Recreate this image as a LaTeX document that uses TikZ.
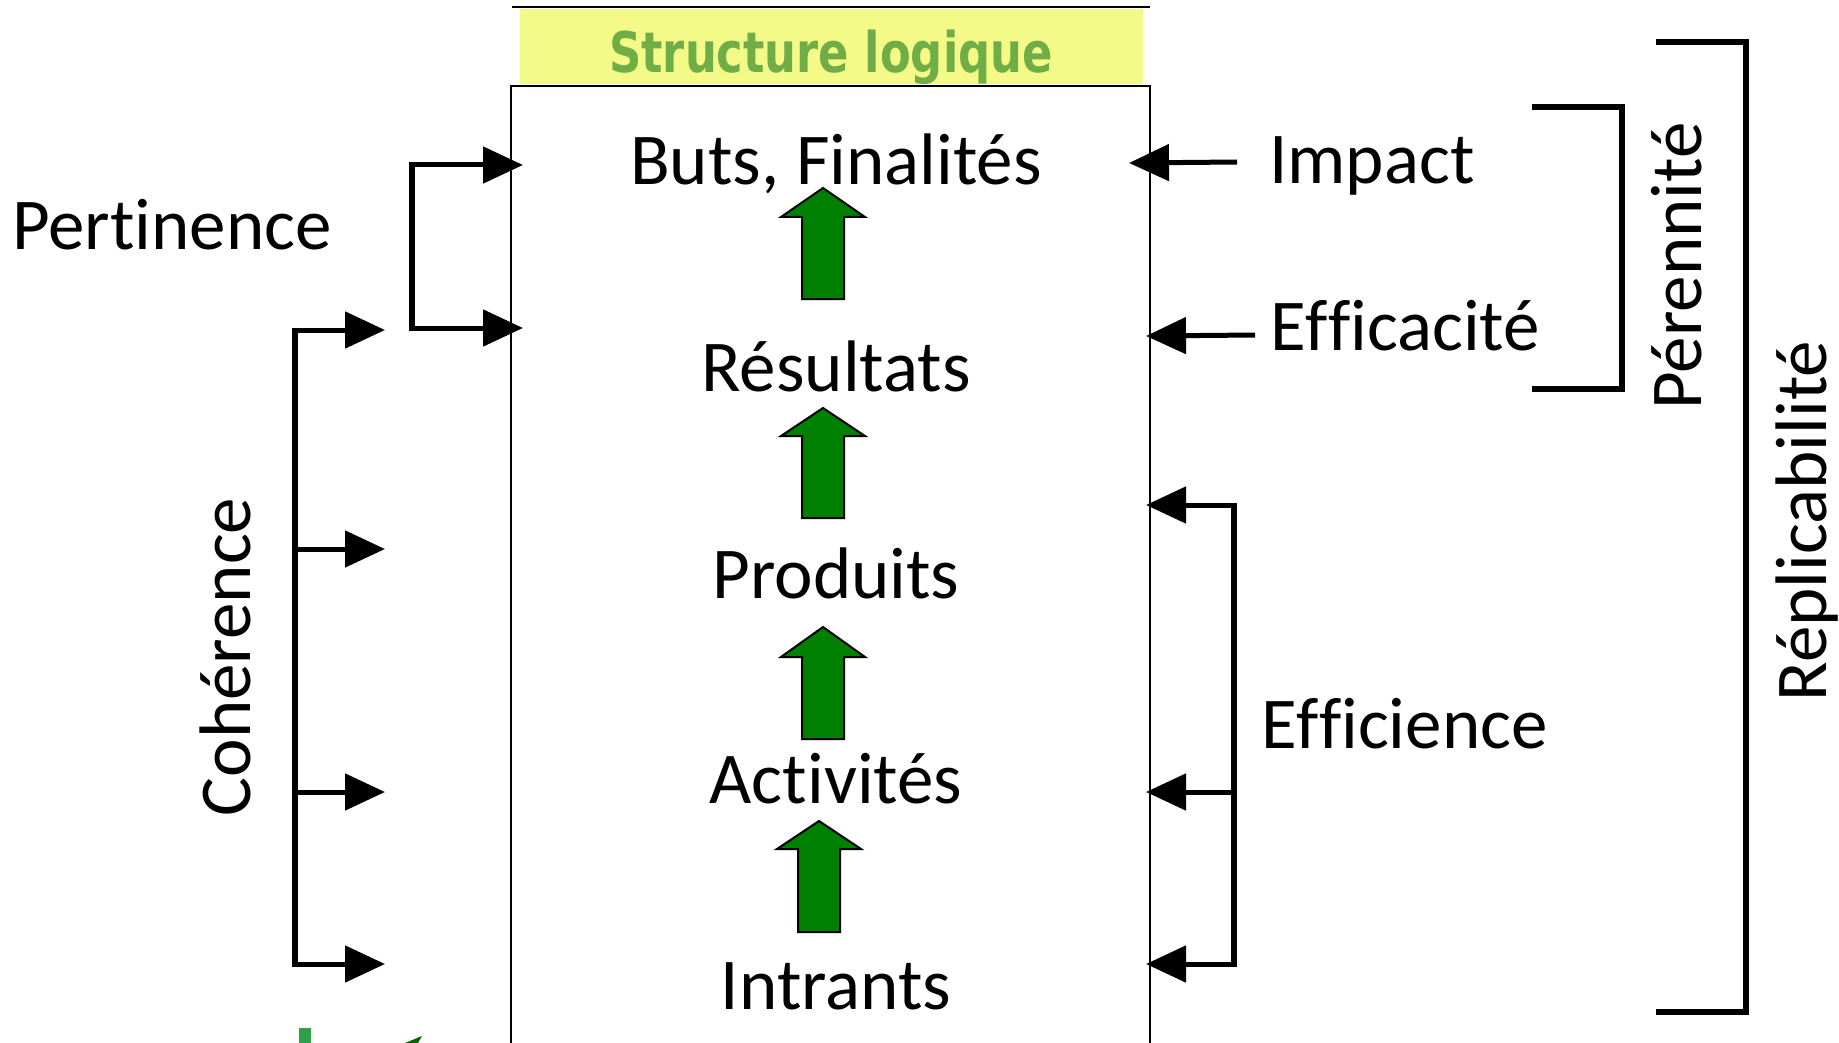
\documentclass[tikz,border=0pt]{standalone}
\usepackage{fontspec}
\setmainfont{Carlito}[Ligatures={NoCommon}]
\newfontfamily\headfont{DejaVu Sans}
\usetikzlibrary{arrows.meta}
\definecolor{headyellow}{RGB}{243,250,135}
\definecolor{headgreen}{RGB}{112,173,71}
\definecolor{arrowgreen}{RGB}{0,128,0}
\definecolor{fraggreen}{RGB}{46,160,72}
% sets one letter on its own so that it does not join the next
\newcommand\solo[1]{\mbox{#1}}
\begin{document}
\begin{tikzpicture}[x=1pt,y=-1pt,
  lbl/.style={font=\fontsize{73}{80}\selectfont, inner sep=0pt, anchor=base},
  brk/.style={line width=5.5pt, line join=miter},
  arr/.style={line width=5pt, -{Triangle[length=40pt,width=36pt]}},
  uparrow/.style={fill=arrowgreen, draw=black, line width=2pt, line join=miter}
]
\useasboundingbox (0,0) rectangle (1839,1043);

% header band
\fill[headyellow] (520,9) rectangle (1143,84);
\draw[line width=2.5pt] (512,7) -- (1150,7);
\node[inner sep=0pt, anchor=base, text=headgreen] (head) at (831,73)
  {\scalebox{0.8}[1]{\headfont\bfseries\fontsize{56}{60}\selectfont Structure logique}};

% logical structure box (open at the bottom)
\draw[line width=2pt] (511,1050) -- (511,86) -- (1150,86) -- (1150,1050);

% levels
\node[lbl] (buts) at (836,185) {Buts, Finalités};
\node[lbl] (res)  at (836,391) {Résultats};
\node[lbl] (prod) at (836,598) {Produits};
\node[lbl] (act)  at (836,803) {Ac\solo{t}ivités};
\node[lbl] (intr) at (836,1009) {Intrants};

% green upward arrows between levels
\foreach \cx/\t/\b/\e in {823/188/217/299, 823/408/436/518, 823/627/657/739, 819/821/849/932}{
  \draw[uparrow] (\cx,\t) -- (\cx+42,\b) -- (\cx+21,\b) -- (\cx+21,\e)
    -- (\cx-21,\e) -- (\cx-21,\b) -- (\cx-42,\b) -- cycle;
}

% Pertinence
\node[lbl, anchor=base west] (pert) at (12,250) {Per\solo{t}inence};
\coordinate (pT) at (412,165);
\coordinate (pB) at (412,328);
\coordinate (pTt) at (523,165);
\coordinate (pBt) at (523,328);
\draw[brk] (pT) -- (pB);
\draw[arr] ([xshift=-2.75pt]pT) -- (pTt);
\draw[arr] ([xshift=-2.75pt]pB) -- (pBt);

% Cohérence
\node[lbl, rotate=90] (coh) at (250,657) {Cohérence};
\coordinate (c1) at (295,330);
\coordinate (c2) at (295,549);
\coordinate (c3) at (295,792);
\coordinate (c4) at (295,964);
\draw[brk] (c1) -- (c4);
\foreach \c in {c1,c2,c3,c4}{
  \draw[arr] ([xshift=-2.75pt]\c) -- ([xshift=90pt]\c);
}

% Impact / Efficacité
\node[lbl, anchor=base west] (imp) at (1269,184) {Impact};
\node[lbl, anchor=base west] (effc) at (1270,350) {E\solo{f}\solo{f}icacité};
\coordinate (impS) at (1237,162);
\coordinate (impT) at (1129,163);
\coordinate (effS) at (1255,335);
\coordinate (effT) at (1146,336);
\draw[arr] (impS) -- (impT);
\draw[arr] (effS) -- (effT);

% Pérennité bracket
\draw[brk] (1532,107) -- (1622,107) -- (1622,389) -- (1532,389);
\node[lbl, rotate=90] (per) at (1701,266) {Pérennité};

% Efficience
\node[lbl, anchor=base west] (effi) at (1261,748) {E\solo{f}\solo{f}icience};
\coordinate (e1) at (1234,505);
\coordinate (e2) at (1234,792);
\coordinate (e3) at (1234,964);
\draw[brk] (e1) -- (e3);
\foreach \c in {e1,e2,e3}{
  \draw[arr] ([xshift=2.75pt]\c) -- ([xshift=-88pt]\c);
}

% Réplicabilité bracket
\draw[brk] (1656,42) -- (1746,42) -- (1746,1012) -- (1656,1012);
\node[lbl, rotate=90] (rep) at (1826,521) {Réplicabilité};

% fragments at the lower edge
\fill[fraggreen] (299,1028) rectangle (311,1043);
\fill[arrowgreen!80!black] (405,1043) -- (422,1036) -- (418,1043) -- cycle;
\end{tikzpicture}
\end{document}
